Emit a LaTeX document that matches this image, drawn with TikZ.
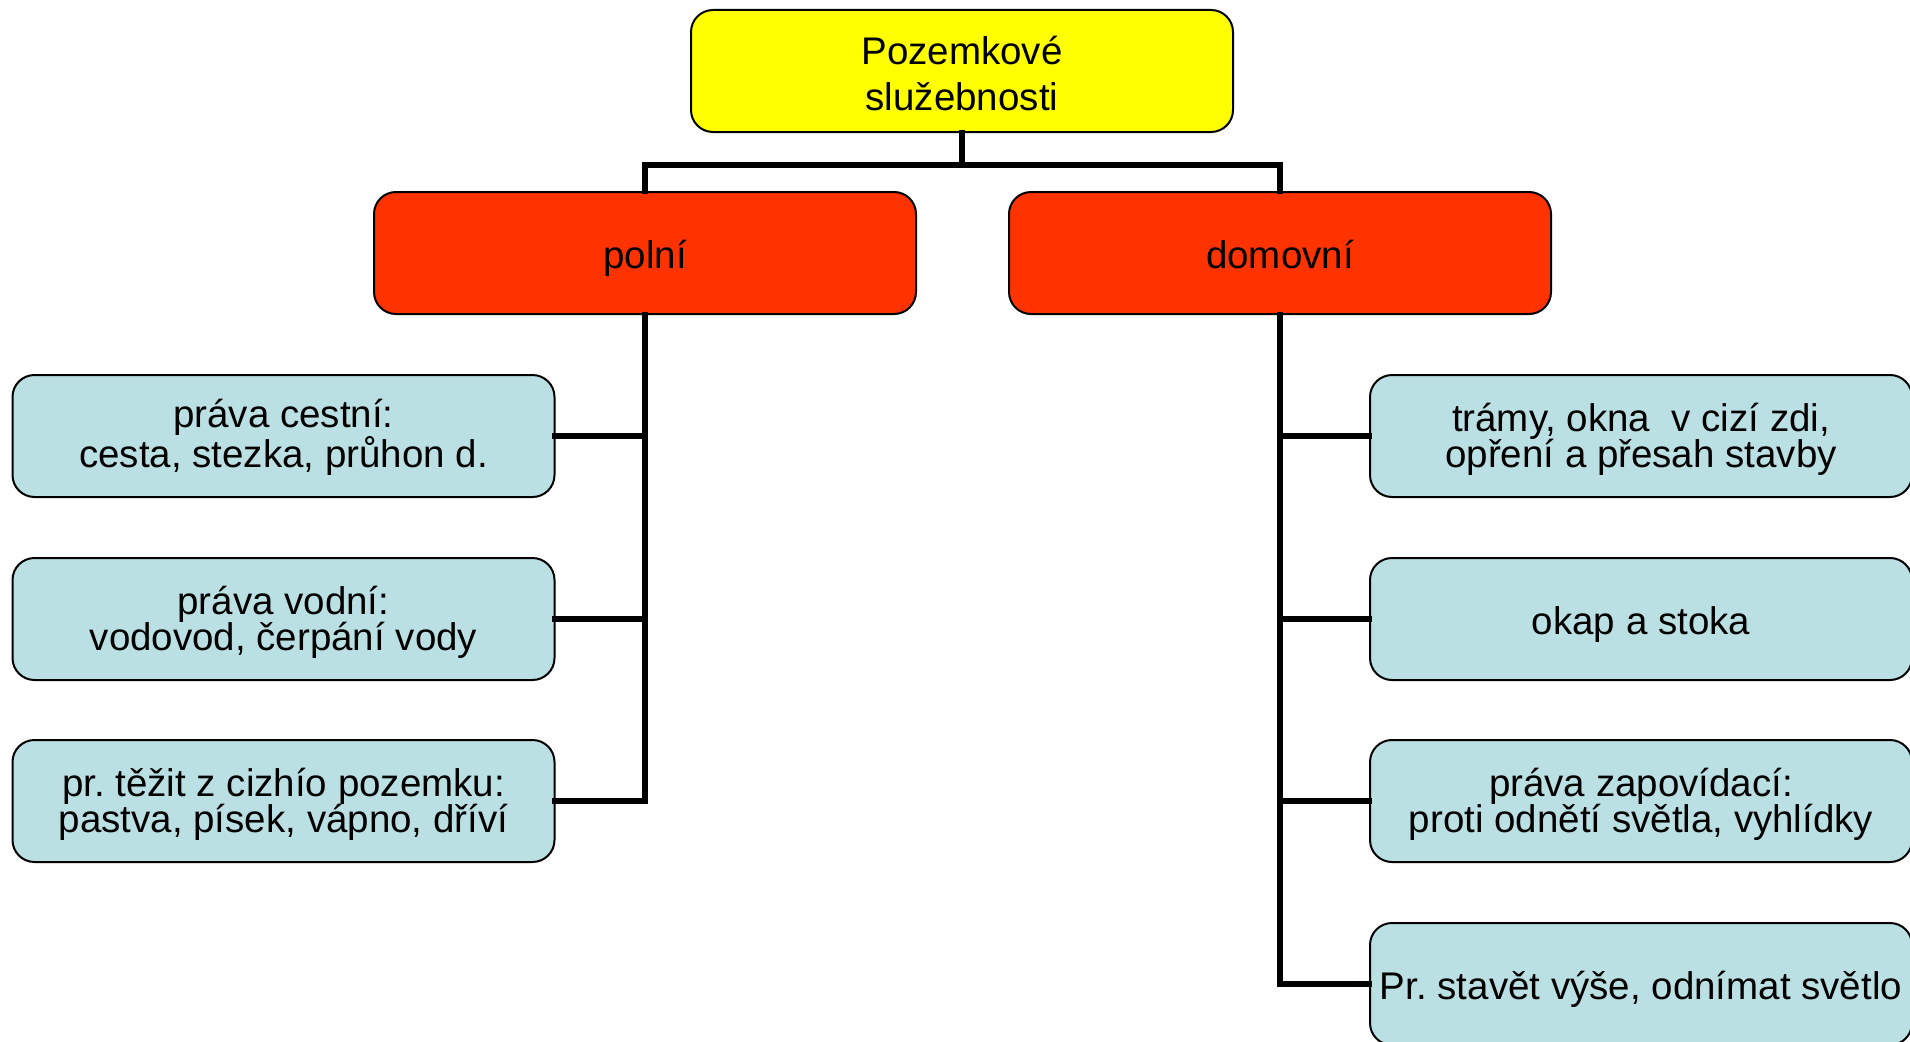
\documentclass[tikz,border=0pt]{standalone}
\usepackage{fontspec}
\setmainfont{Liberation Sans}
\usetikzlibrary{calc}
\frenchspacing

\definecolor{topfill}{RGB}{255,255,0}
\definecolor{midfill}{RGB}{255,51,0}
\definecolor{leaffill}{RGB}{187,224,227}

\tikzset{
	box/.style={draw=black, line width=2pt, rounded corners=22pt,
		minimum width=542pt, minimum height=122pt, inner sep=0pt,
		text height=38pt, text depth=8pt,
		align=center, font=\fontsize{38.5}{45}\selectfont},
	headbox/.style={box, fill=topfill, text height=86pt},
	leafbox/.style={box, fill=leaffill, font=\fontsize{38.5}{36.5}\selectfont},
	twoline/.style={text height=71pt},
	conn/.style={line width=6.5pt, line cap=rect, draw=black}
}

\begin{document}
\begin{tikzpicture}[x=1pt, y=-1pt]
	\useasboundingbox (0,0) rectangle (1910,1041);
	\node [headbox] (top) at (962,71) {Pozemkové\\služebnosti};
	\node [box, fill=midfill] (polni) at (645,253) {polní};
	\node [box, fill=midfill] (domov) at (1280,253) {domovní};
	\node [leafbox, twoline] (l1) at (283.5,436) {práva cestní:\\cesta, stezka, průhon d.};
	\node [leafbox, twoline] (l2) at (283.5,619) {práva vodní:\\vodovod, čerpání vody};
	\node [leafbox, twoline] (l3) at (283.5,801) {pr. těžit z cizhío pozemku:\\pastva, písek, vápno, dříví};
	\node [leafbox, twoline] (r1) at (1641,436) {trámy, okna\ \ v cizí zdi,\\opření a přesah stavby};
	\node [leafbox] (r2) at (1641,619) {okap a stoka};
	\node [leafbox, twoline] (r3) at (1641,801) {práva zapovídací:\\proti odnětí světla, vyhlídky};
	\node [leafbox] (r4) at (1641,984) {Pr. stavět výše, odnímat světlo};
	\coordinate (bus) at ($(top.south)+(0,32)$);
	\draw [conn] (top.south) -- (bus);
	\draw [conn] (bus) -| (polni.north);
	\draw [conn] (bus) -| (domov.north);
	\foreach \n in {l1,l2,l3}
		\draw [conn] (polni.south) |- (\n.east);
	\foreach \n in {r1,r2,r3,r4}
		\draw [conn] (domov.south) |- (\n.west);
\end{tikzpicture}
\end{document}
